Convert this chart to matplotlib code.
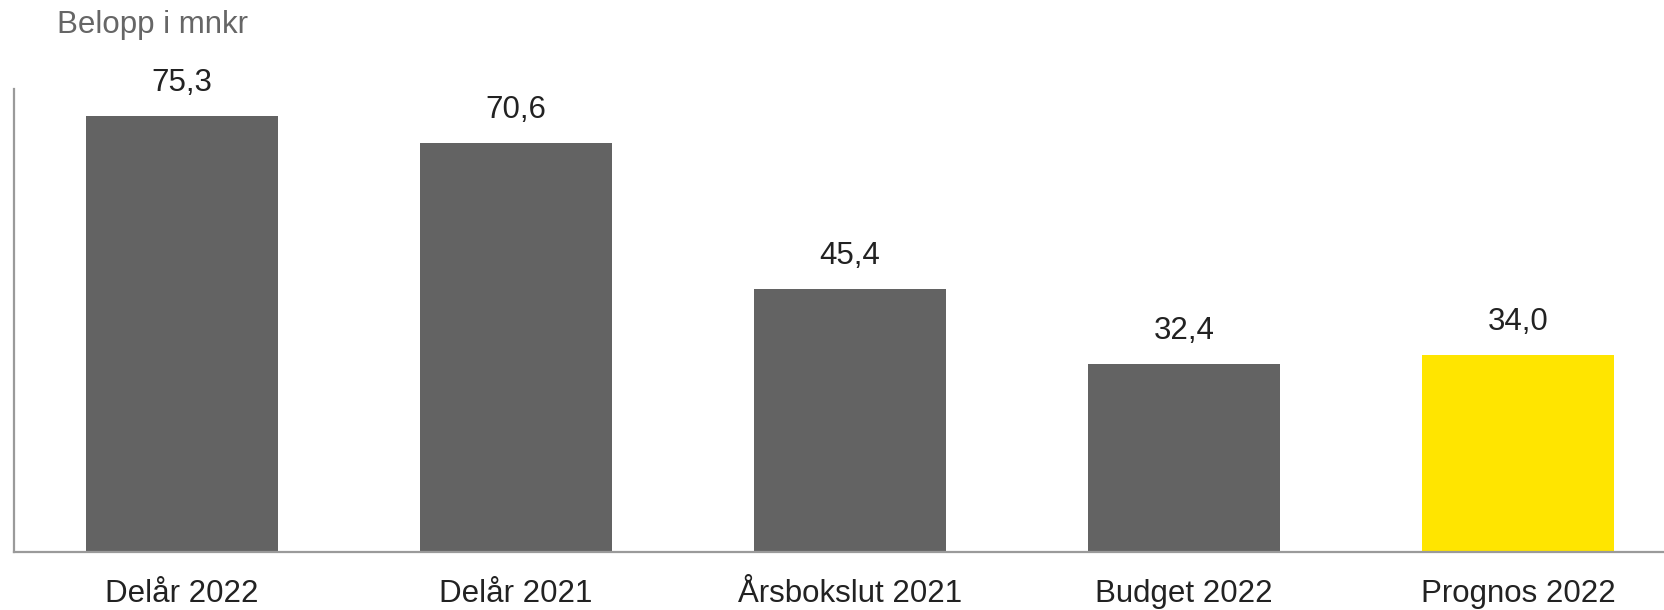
import matplotlib
matplotlib.use("Agg")
import matplotlib.pyplot as plt

categories = ["Delår 2022", "Delår 2021", "Årsbokslut 2021", "Budget 2022", "Prognos 2022"]
values = [75.3, 70.6, 45.4, 32.4, 34.0]
colors = ["#636363", "#636363", "#636363", "#636363", "#FFE500"]
value_labels = ["75,3", "70,6", "45,4", "32,4", "34,0"]

plt.rcParams['font.family'] = ['Liberation Sans', 'DejaVu Sans']

fig = plt.figure(figsize=(16.64, 6.10), dpi=100)
ax = fig.add_axes([14/1664, 58/610, 1 - 14/1664, (552 - 89)/610])

x = list(range(len(categories)))
bars = ax.bar(x, values, width=0.575, color=colors, zorder=2)
ax.bar_label(bars, labels=value_labels, padding=13, fontsize=22.5, color="#222222")

ax.set_xlim(-0.503, 4.437)
ax.set_ylim(0, 80)
ax.set_xticks(x)
ax.set_xticklabels(categories, fontsize=22.5, color="#222222")
ax.tick_params(axis='x', length=0, pad=19.5)
ax.set_yticks([])

for s in ["top", "right"]:
    ax.spines[s].set_visible(False)
for s in ["left", "bottom"]:
    ax.spines[s].set_color("#9a9a9a")
    ax.spines[s].set_linewidth(1.6)

fig.text(57/1664, 1 - 33/610, "Belopp i mnkr", fontsize=22.5, color="#666666",
         ha="left", va="baseline")

fig.savefig("out.png", dpi=100)
